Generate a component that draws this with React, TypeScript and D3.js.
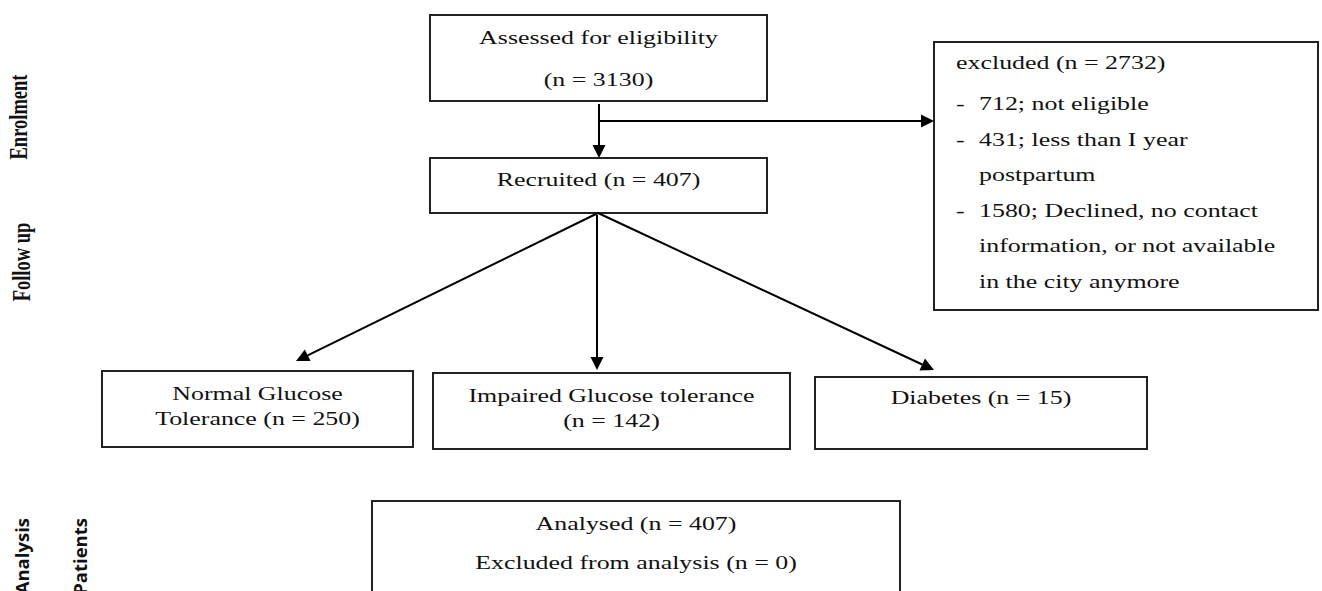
import React from "react";
import * as d3 from "d3";

// ---- content ----
const stageLabels = ["Enrolment", "Follow up"];
const sideLabels = ["Analysis", "Patients"];
const assessedLines = ["Assessed for eligibility", "(n = 3130)"];
const recruitedLines = ["Recruited (n = 407)"];
const excludedTitle = "excluded (n = 2732)";
const excludedItems = [
  ["712; not eligible"],
  ["431; less than I year", "postpartum"],
  ["1580; Declined, no contact", "information, or not available", "in the city anymore"],
];
const outcomeLines = [
  ["Normal Glucose", "Tolerance (n = 250)"],
  ["Impaired Glucose tolerance", "(n = 142)"],
  ["Diabetes (n = 15)"],
];
const analysedLines = ["Analysed (n = 407)", "Excluded from analysis (n = 0)"];

const W = 1322;
const H = 591;
const SERIF = "'Liberation Serif', 'Times New Roman', serif";
const SANS = "'Open Sans', 'Noto Sans', sans-serif";
const FS = 18.5;
const SX = 1.4;
const STROKE = "#222";

type Box = { x0: number; y0: number; x1: number; y1: number };

const boxes: Record<string, Box> = {
  assessed: { x0: 430, y0: 15, x1: 767, y1: 101 },
  recruited: { x0: 430, y0: 158, x1: 767, y1: 213 },
  excluded: { x0: 934, y0: 42, x1: 1318, y1: 310 },
  normal: { x0: 102, y0: 371, x1: 413, y1: 447 },
  impaired: { x0: 433, y0: 373, x1: 790, y1: 449 },
  diabetes: { x0: 815, y0: 377, x1: 1147, y1: 449 },
  analysed: { x0: 372, y0: 501, x1: 900, y1: 640 },
};

function Arrow({ x1, y1, x2, y2 }: { x1: number; y1: number; x2: number; y2: number }) {
  const len = 13;
  const hw = 6.5;
  const ang = Math.atan2(y2 - y1, x2 - x1);
  const bx = x2 - len * Math.cos(ang);
  const by = y2 - len * Math.sin(ang);
  const px = -Math.sin(ang) * hw;
  const py = Math.cos(ang) * hw;
  const line = d3.line()([
    [x1, y1],
    [bx, by],
  ]);
  const head = d3.line()([
    [x2, y2],
    [bx + px, by + py],
    [bx - px, by - py],
  ]) + "Z";
  return (
    <g>
      <path d={line || ""} stroke="#000" strokeWidth={2} fill="none" />
      <path d={head} fill="#000" stroke="none" />
    </g>
  );
}

function T({ x, y, text, anchor = "middle" }: { x: number; y: number; text: string; anchor?: string }) {
  return (
    <text
      transform={`translate(${x},${y}) scale(${SX},1)`}
      textAnchor={anchor as any}
      fontFamily={SERIF}
      fontSize={FS}
      fill="#111"
    >
      {text}
    </text>
  );
}

export default function App() {
  const cx = (b: Box) => (b.x0 + b.x1) / 2;
  const rects = Object.entries(boxes).map(([k, b]) => (
    <rect key={k} x={b.x0} y={b.y0} width={b.x1 - b.x0} height={b.y1 - b.y0} fill="none" stroke={STROKE} strokeWidth={2} />
  ));

  const A = boxes.assessed;
  const R = boxes.recruited;
  const E = boxes.excluded;
  const outcomeKeys = ["normal", "impaired", "diabetes"];
  const outcomeBaselines = [[400, 425], [402, 427], [404]];
  const excludedBaselines = [[110], [146, 181], [217, 252, 288]];
  const flowX = 599;

  return (
    <svg width={W} height={H} style={{ position: "absolute", left: 0, top: 0, background: "#fff" }}>
      <rect x={0} y={0} width={W} height={H} fill="#fff" />
      {rects}

      {/* arrows */}
      <Arrow x1={flowX} y1={A.y1 + 3} x2={flowX} y2={R.y0} />
      <Arrow x1={flowX} y1={121} x2={E.x0} y2={121} />
      <Arrow x1={598} y1={R.y1} x2={296} y2={361} />
      <Arrow x1={597} y1={R.y1 + 2} x2={597} y2={370} />
      <Arrow x1={598} y1={R.y1} x2={934} y2={370} />

      {/* assessed */}
      <T x={cx(A)} y={44} text={assessedLines[0]} />
      <T x={cx(A)} y={86} text={assessedLines[1]} />
      <T x={cx(R)} y={186} text={recruitedLines[0]} />

      {/* excluded */}
      <T x={956} y={69} text={excludedTitle} anchor="start" />
      {excludedItems.map((lines, i) => (
        <g key={i}>
          <T x={956} y={excludedBaselines[i][0]} text="-" anchor="start" />
          {lines.map((l, j) => (
            <T key={j} x={979} y={excludedBaselines[i][j]} text={l} anchor="start" />
          ))}
        </g>
      ))}

      {/* outcomes */}
      {outcomeLines.map((lines, i) => {
        const b = boxes[outcomeKeys[i]];
        return lines.map((l, j) => <T key={i + "-" + j} x={cx(b)} y={outcomeBaselines[i][j]} text={l} />);
      })}

      {/* analysed */}
      <T x={cx(boxes.analysed)} y={530} text={analysedLines[0]} />
      <T x={cx(boxes.analysed)} y={569} text={analysedLines[1]} />

      {/* stage labels */}
      {stageLabels.map((s, i) => (
        <text
          key={s}
          transform={`translate(${i === 0 ? 27 : 30},${i === 0 ? 117 : 262}) scale(${SX},1) rotate(-90)`}
          textAnchor="middle"
          fontFamily={SERIF}
          fontWeight="bold"
          fontSize={FS}
          fill="#111"
        >
          {s}
        </text>
      ))}
      {sideLabels.map((s, i) => (
        <text
          key={s}
          transform={`translate(${i === 0 ? 29 : 87},518) rotate(-90)`}
          textAnchor="end"
          fontFamily={SANS}
          fontWeight="bold"
          fontSize={18.5}
          fill="#111"
        >
          {s}
        </text>
      ))}
    </svg>
  );
}
